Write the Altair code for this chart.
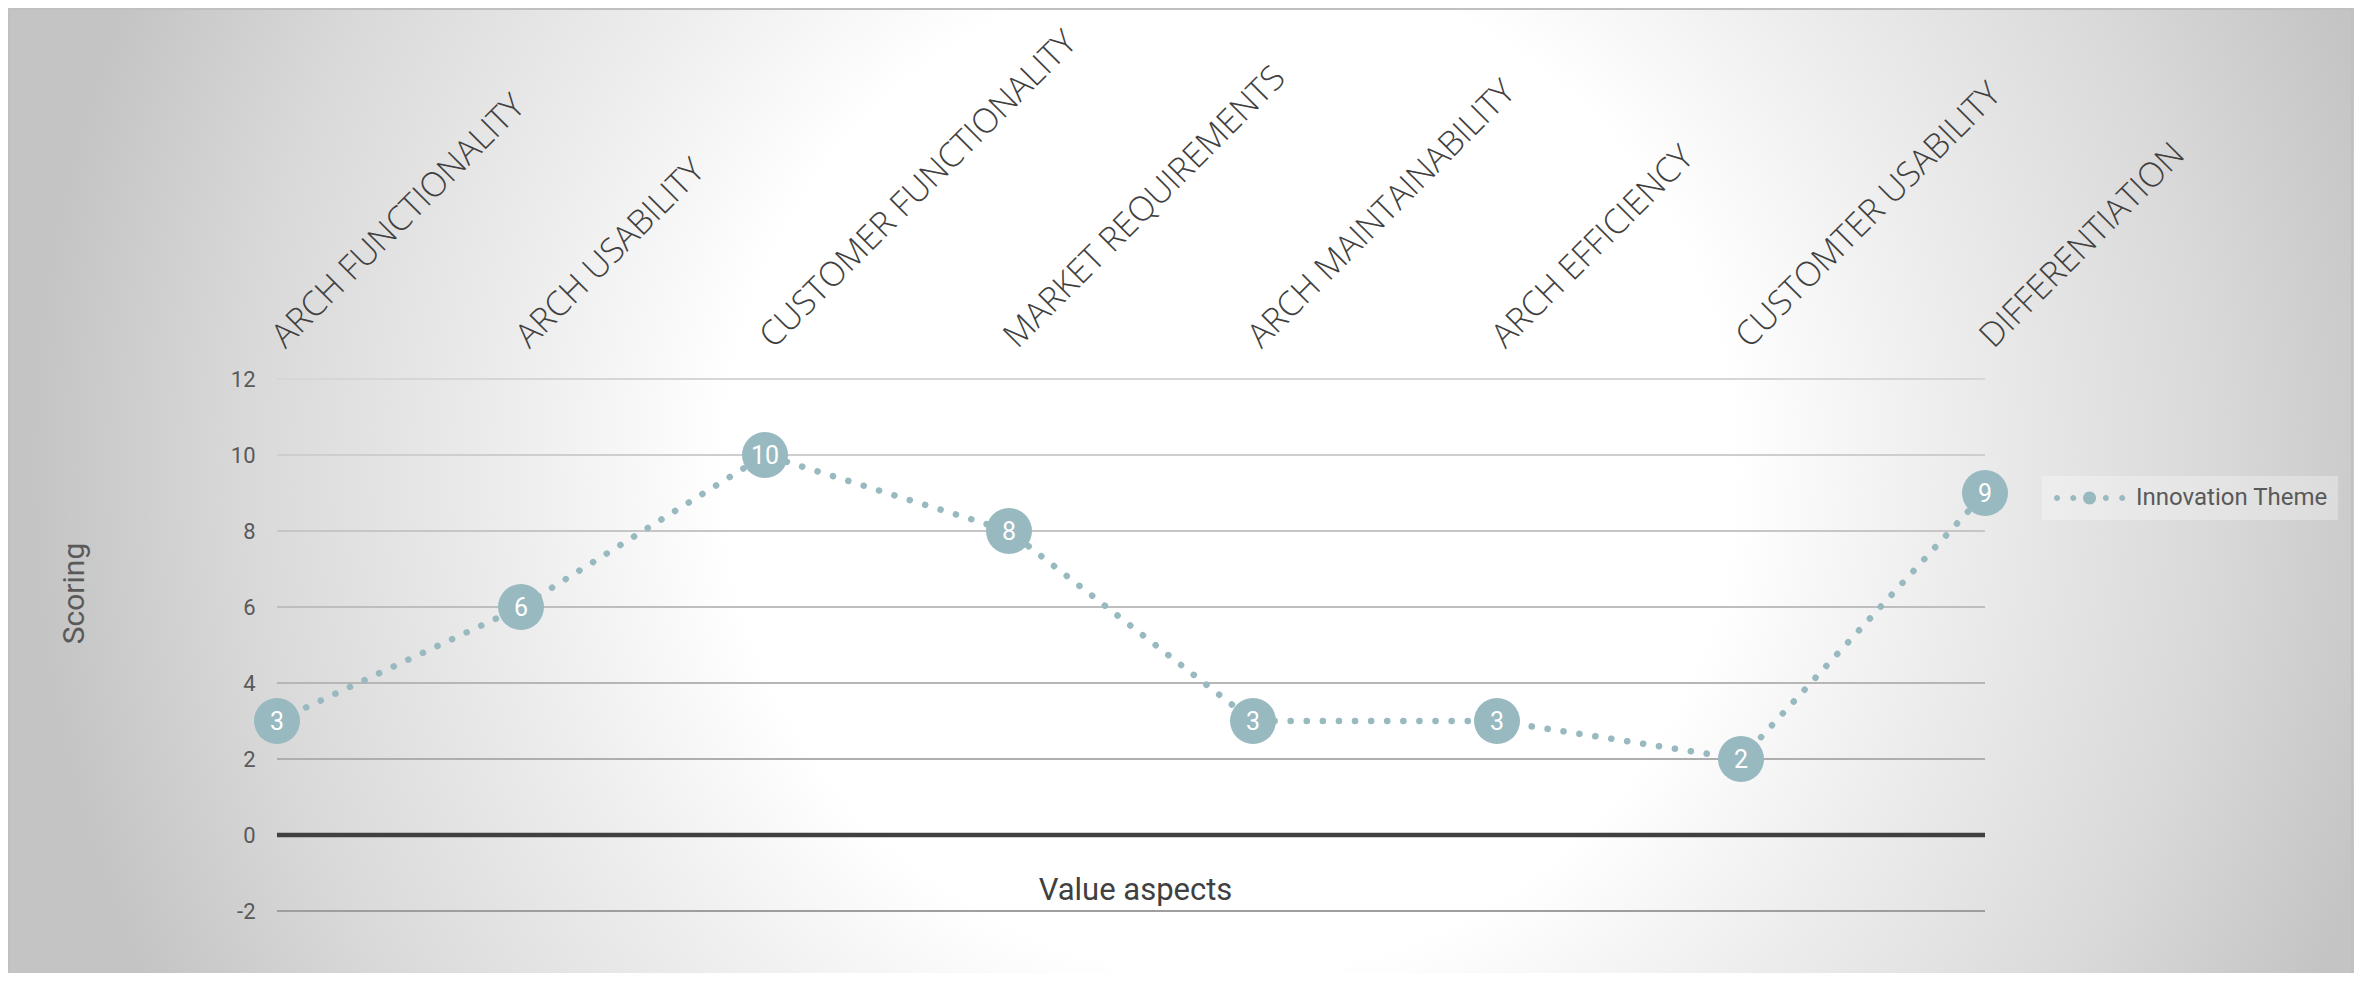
import altair as alt
import pandas as pd

# ---- data ----
aspects = [
    "ARCH FUNCTIONALITY",
    "ARCH USABILITY",
    "CUSTOMER FUNCTIONALITY",
    "MARKET REQUIREMENTS",
    "ARCH MAINTAINABILITY",
    "ARCH EFFICIENCY",
    "CUSTOMTER USABILITY",
    "DIFFERENTIATION",
]
scores = [3, 6, 10, 8, 3, 3, 2, 9]
series_name = "Innovation Theme"
y_ticks = [-2, 0, 2, 4, 6, 8, 10, 12]

df = pd.DataFrame({"aspect": aspects, "score": scores, "series": [series_name] * len(aspects)})
grid_df = pd.DataFrame({"tick": y_ticks})
one_df = pd.DataFrame({"k": [0]})

# ---- layout ----
W, H = 1708, 532
PAD = {"left": 269, "top": 371, "right": 369, "bottom": 62}
LINE_COLOR = "#97b9bf"

y_scale = alt.Scale(domain=[-2, 12], nice=False, zero=False)
y_axis = alt.Axis(
    values=y_ticks, grid=False, domain=False, ticks=False, tickSize=0, zindex=1,
    labelExpr="datum.value + ''",
    labelFont="Roboto", labelFontSize=22, labelColor="#595959", labelPadding=22,
    title="Scoring", titleFont="Roboto", titleFontSize=30, titleFontWeight="normal",
    titleColor="#595959", titleAngle=270, titleX=-203, titleY=214,
    titleAlign="center", titleBaseline="middle",
)

def Y(field):
    return alt.Y(field, scale=y_scale, axis=y_axis)

x_scale = alt.Scale(type="point", padding=0)
x_top_axis = alt.Axis(
    orient="top", labelAngle=315, labelAlign="left", labelBaseline="alphabetic",
    labelFont="Open Sans", labelFontSize=34, labelFontWeight=300, labelColor="#404040",
    labelPadding=30, labelOffset=8, labelLimit=1000, labelOverlap=False, zindex=1,
    domain=False, ticks=False, tickSize=0, grid=False, title=None,
)
x_bottom_axis = alt.Axis(
    orient="bottom", labels=False, domain=False, ticks=False, tickSize=0, grid=False,
    zindex=1,
    title="Value aspects", titleFont="Roboto", titleFontSize=31, titleFontWeight="normal",
    titleColor="#404040", titleX=858, titleY=-12, titleAlign="center",
    titleBaseline="alphabetic",
)

# ---- background (radial grey gradient panel) ----
gradient = {
    "gradient": "radial",
    "x1": 0.5, "y1": 0.5, "r1": 0,
    "x2": 0.5, "y2": 0.5, "r2": 0.4,
    "stops": [
        {"offset": 0.0, "color": "#ffffff"},
        {"offset": 0.42, "color": "#ffffff"},
        {"offset": 0.6, "color": "#ededed"},
        {"offset": 0.82, "color": "#d9d9d9"},
        {"offset": 1.0, "color": "#c4c4c4"},
    ],
}
bg = alt.Chart(one_df).mark_rect(color=gradient).encode(
    x=alt.value(-547), x2=alt.value(2453), y=alt.value(-1409), y2=alt.value(1591)
)
border = alt.Chart(one_df).mark_rect(fillOpacity=0, stroke="#c0c0c0", strokeWidth=2).encode(
    x=alt.value(-268), x2=alt.value(2075), y=alt.value(-370), y2=alt.value(H + 120)
)

# ---- gridlines from tick values ----
grid = alt.Chart(grid_df).mark_rule().encode(
    y=Y("tick:Q"),
    x=alt.value(0),
    x2=alt.value(W),
    color=alt.condition(
        "datum.tick === 0",
        alt.value("#404040"),
        alt.Color("tick:Q", scale=alt.Scale(domain=[-2, 12], range=["#9e9e9e", "#d6d6d6"]), legend=None),
    ),
    strokeWidth=alt.condition("datum.tick === 0", alt.value(4.5), alt.value(2)),
)

# ---- series ----
line = alt.Chart(df).mark_line(
    color=LINE_COLOR, strokeWidth=6.5, strokeDash=[0.1, 16], strokeCap="round"
).encode(
    x=alt.X("aspect:N", sort=aspects, scale=x_scale, axis=x_top_axis),
    y=Y("score:Q"),
)


def circ(cx, r):
    return f"M{cx - r},0A{r},{r} 0 1,0 {cx + r},0A{r},{r} 0 1,0 {cx - r},0Z"


legend_path = "".join([circ(-0.7, 0.3), circ(0.93, 0.3), circ(2.56, 0.65), circ(4.19, 0.3), circ(5.82, 0.3)])

points = alt.Chart(df).mark_circle(size=2116, opacity=1).encode(
    x=alt.X("aspect:N", sort=aspects, scale=x_scale, axis=x_bottom_axis),
    y=Y("score:Q"),
    color=alt.Color(
        "series:N",
        scale=alt.Scale(range=[LINE_COLOR]),
        legend=alt.Legend(
            orient="none", legendX=1765, legendY=97, title=None,
            fillColor="rgba(255,255,255,0.3)", padding=10,
            labelFont="Roboto", labelFontSize=24, labelColor="#595959",
            labelLimit=500,
            symbolType=legend_path, symbolSize=400, symbolStrokeWidth=0,
            symbolOpacity=1, labelOffset=60,
        ),
    ),
)

labels = alt.Chart(df).mark_text(
    color="white", font="Roboto", fontSize=25, align="center", baseline="middle", dy=1
).encode(
    x=alt.X("aspect:N", sort=aspects, scale=x_scale, axis=None),
    y=Y("score:Q"),
    text=alt.Text("score:Q"),
)

chart = (
    alt.layer(bg, border, grid, line, points, labels)
    .resolve_axis(x="independent")
    .resolve_scale(color="independent")
    .properties(
        width=W, height=H,
        autosize=alt.AutoSizeParams(type="none"),
        padding=PAD,
        background="#cccccc",
    )
    .configure_view(stroke=None)
)

chart.save("out.html", embed_options={"renderer": "svg", "actions": False})
